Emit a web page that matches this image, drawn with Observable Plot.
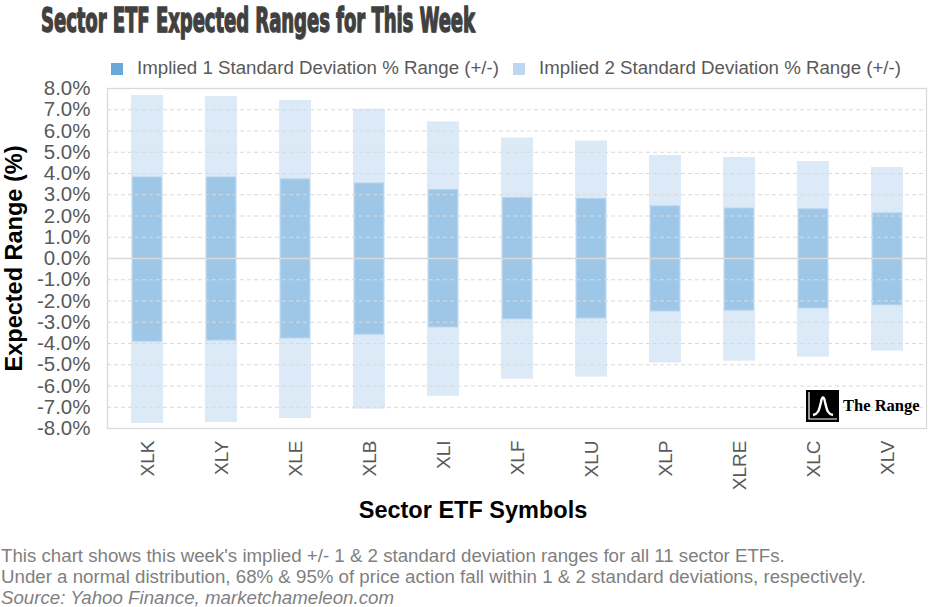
<!DOCTYPE html>
<html>
<head>
<meta charset="utf-8">
<script src="https://cdn.jsdelivr.net/npm/d3@7"></script>
<script src="https://cdn.jsdelivr.net/npm/@observablehq/plot@0.6"></script>
<style>
  html, body { margin: 0; padding: 0; background: #fff; }
  #wrap { position: relative; width: 934px; height: 607px; overflow: hidden; font-family: "Liberation Sans", Arial, sans-serif; }
  #title { position: absolute; left: 41px; top: 0px; font-family: "Liberation Sans Narrow", "DejaVu Sans Condensed", sans-serif; font-weight: bold; font-size: 34px; color: #404040; white-space: nowrap; transform-origin: left top; -webkit-text-stroke: 1.3px #404040; text-shadow: 1px 1px 1px #bbb; }
  #legend { position: absolute; left: 111px; top: 57px; font-size: 18.7px; color: #595959; white-space: nowrap; }
  #legend span.sw { display: inline-block; width: 12px; height: 12px; vertical-align: -1px; margin-right: 14px; }
  #legend span.item { margin-right: 14px; }
  #chart { position: absolute; left: 0; top: 80px; }
  #caption { position: absolute; left: 1px; top: 545px; font-size: 18.7px; color: #7f7f7f; line-height: 21px; white-space: nowrap; }
  #logo { position: absolute; left: 806px; top: 390px; display: flex; align-items: center; }
  #logo .txt { font-family: "Liberation Serif", "DejaVu Serif", serif; font-weight: bold; font-size: 16.5px; color: #000; margin-left: 4px; }
</style>
</head>
<body>
<div id="wrap">
  <div id="title">Sector ETF Expected Ranges for This Week</div>
  <div id="legend"><span class="sw" style="background:#68a9d9"></span><span class="item">Implied 1 Standard Deviation % Range (+/-)</span><span class="sw" style="background:#bcd7ef"></span><span>Implied 2 Standard Deviation % Range (+/-)</span></div>
  <div id="chart"></div>
  <div id="logo">
    <svg width="33" height="32" viewBox="0 0 33 32">
      <rect x="0" y="0" width="33" height="32" fill="#000"/>
      <path d="M3 2 V29 H31" fill="none" stroke="#fff" stroke-width="1.2"/>
      <path d="M7 25 C12 24 13 21 15 12 C16 6 18 6 19 12 C21 21 22 24 27 25" fill="none" stroke="#fff" stroke-width="2.4"/>
    </svg>
    <span class="txt">The Range</span>
  </div>
  <div id="caption">This chart shows this week's implied +/- 1 &amp; 2 standard deviation ranges for all 11 sector ETFs.<br>Under a normal distribution, 68% &amp; 95% of price action fall within 1 &amp; 2 standard deviations, respectively.<br><i>Source: Yahoo Finance, marketchameleon.com</i></div>
</div>
<script>
const symbols = ["XLK","XLY","XLE","XLB","XLI","XLF","XLU","XLP","XLRE","XLC","XLV"];
const up1   = [3.81, 3.81, 3.72, 3.53, 3.22, 2.84, 2.80, 2.45, 2.35, 2.31, 2.12];
const down1 = [-3.91, -3.86, -3.76, -3.58, -3.24, -2.86, -2.82, -2.49, -2.45, -2.35, -2.20];
const up2   = [7.67, 7.62, 7.44, 7.02, 6.43, 5.67, 5.53, 4.85, 4.75, 4.56, 4.28];
const down2 = [-7.76, -7.72, -7.53, -7.09, -6.48, -5.68, -5.58, -4.92, -4.83, -4.64, -4.36];
const yTicks = d3.range(-8, 9, 1);

const rows = symbols.map((s, i) => ({sym: s, up1: up1[i], down1: down1[i], up2: up2[i], down2: down2[i]}));
const gridDashed = yTicks.filter(t => t !== 0 && Math.abs(t) !== 8);

const chart = Plot.plot({
  width: 934,
  height: 455,
  marginLeft: 107,
  marginRight: 8,
  marginTop: 8,
  marginBottom: 107,
  style: {fontFamily: "'Liberation Sans', Arial, sans-serif", fontSize: "19px", color: "#595959", background: "transparent", overflow: "visible"},
  x: {domain: symbols, paddingInner: 0.57, paddingOuter: 0.285, label: null},
  y: {domain: [-8, 8], ticks: yTicks, label: null},
  marks: [
    Plot.barY(rows, {x: "sym", y1: "down2", y2: "up2", fill: "#dce9f6"}),
    Plot.barY(rows, {x: "sym", y1: "down1", y2: "up1", fill: "#9dc6e7", stroke: "#b3d3ee", strokeWidth: 1, insetLeft: 1.5, insetRight: 1.5}),
    Plot.ruleY(gridDashed, {stroke: "#d9d9d9", strokeWidth: 1.2, strokeDasharray: "4,3"}),
    Plot.ruleY([0], {stroke: "#d9d9d9", strokeWidth: 1.3}),
    Plot.frame({stroke: "#d9d9d9", strokeWidth: 1.3}),
    Plot.axisY({ticks: yTicks, tickSize: 0, tickPadding: 17, fontSize: 20.5, tickFormat: d => d.toFixed(1) + "%", fill: "#595959", label: null}),
    Plot.axisX({tickSize: 0, tickPadding: 12, fontSize: 19, tickRotate: -90, fill: "#595959", label: null}),
    Plot.text(["Expected Range (%)"], {frameAnchor: "left", dx: -93, rotate: -90, textAnchor: "middle", fontWeight: "bold", fontSize: 23.5, fill: "#000"}),
    Plot.text(["Sector ETF Symbols"], {frameAnchor: "bottom", dx: -44, dy: 89, textAnchor: "middle", fontWeight: "bold", fontSize: 23.5, fill: "#000"})
  ]
});
document.getElementById("chart").appendChild(chart);

// fit title width to reference (~434px)
const t = document.getElementById("title");
const w = t.getBoundingClientRect().width;
t.style.transform = `scaleX(${434 / w})`;
</script>
</body>
</html>
